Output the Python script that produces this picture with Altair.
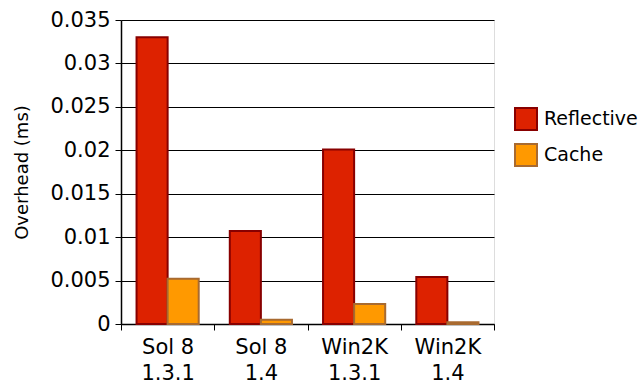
import altair as alt
import pandas as pd

categories = ["Sol 8|1.3.1", "Sol 8|1.4", "Win2K|1.3.1", "Win2K|1.4"]
series = ["Reflective", "Cache"]
reflective = [0.0330, 0.0107, 0.0201, 0.0054]
cache = [0.0052, 0.0005, 0.0023, 0.0002]
y_ticks = [0, 0.005, 0.01, 0.015, 0.02, 0.025, 0.03, 0.035]

rows = []
for i, c in enumerate(categories):
    rows.append({"cat": c, "series": "Reflective", "value": reflective[i]})
    rows.append({"cat": c, "series": "Cache", "value": cache[i]})
df = pd.DataFrame(rows)

FONT = "DejaVu Sans"

legend_cfg = dict(title=None, orient="none", legendX=393, legendY=87,
                  symbolType="square", symbolSize=484, symbolStrokeWidth=2,
                  labelFontSize=19, labelFont=FONT, labelColor="#000",
                  rowPadding=6, labelOffset=6, padding=0)

chart = alt.Chart(df).mark_bar(strokeWidth=2).encode(
    x=alt.X("cat:N", sort=categories, title=None,
            scale=alt.Scale(paddingInner=0, paddingOuter=0),
            axis=alt.Axis(labelExpr="isString(datum.value) ? split(datum.value, '|') : ''",
                          labelAngle=0,
                          tickBand="extent", tickSize=6, tickColor="#000",
                          domainColor="#000", domainWidth=1.5,
                          labelFontSize=21, labelFont=FONT, labelColor="#000",
                          labelLineHeight=26, labelPadding=6)),
    xOffset=alt.XOffset("series:N", sort=series,
                        scale=alt.Scale(paddingInner=0, paddingOuter=0.5)),
    y=alt.Y("value:Q", title="Overhead (ms)",
            scale=alt.Scale(domain=[0, 0.035], nice=False),
            axis=alt.Axis(values=y_ticks, format="~g", grid=True,
                          gridColor="#000", gridWidth=1,
                          tickSize=6, tickColor="#000",
                          domainColor="#000", domainWidth=1.5,
                          labelFontSize=21, labelFont=FONT, labelColor="#000",
                          labelPadding=5,
                          titleFontSize=18, titleFont=FONT, titleFontWeight="normal",
                          titleColor="#000", titlePadding=18)),
    color=alt.Color("series:N", sort=series,
                    scale=alt.Scale(domain=series, range=["#dd2200", "#ff9900"]),
                    legend=alt.Legend(**legend_cfg)),
    stroke=alt.Stroke("series:N", sort=series,
                      scale=alt.Scale(domain=series, range=["#880000", "#a86a30"]),
                      legend=alt.Legend(**legend_cfg)),
).properties(
    width=373, height=304,
    autosize=alt.AutoSizeParams(type="none"),
    padding={"left": 121, "top": 20, "right": 148, "bottom": 61},
).configure_view(stroke=None).configure(background="white")

chart.save("out.html", embed_options={"renderer": "svg", "actions": False})
